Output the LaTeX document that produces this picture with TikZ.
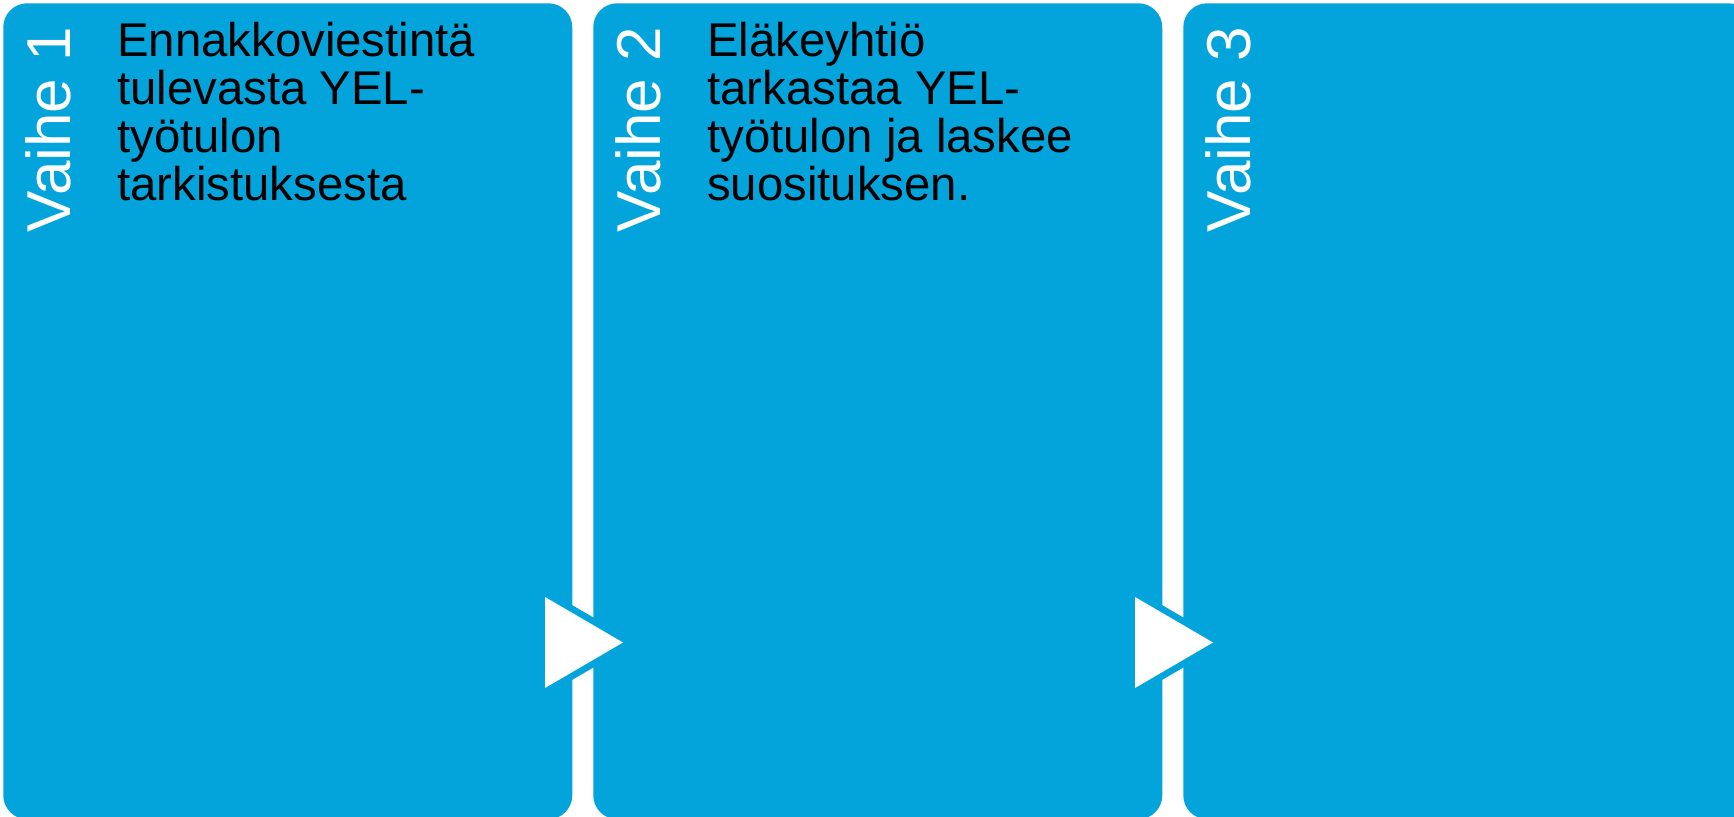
\documentclass[tikz,border=0pt]{standalone}
\usepackage{fontspec}
\setmainfont{Liberation Sans}
\usetikzlibrary{positioning}
\definecolor{vaiheblue}{HTML}{03A4DB}
\newcommand{\panelpitch}{590}
\newcommand{\labelfont}{\fontsize{46.5}{47}\selectfont}
\newcommand{\bodyfont}{\fontsize{35.5}{35.9}\selectfont}

\begin{document}
\begin{tikzpicture}[x=0.75pt,y=-0.75pt]
      \useasboundingbox (0,0) rectangle (1734,817);
      \clip (0,0) rectangle (1734,817);

          %%  three step panels  %%
      \foreach \i in {1,2,3}
      { \node (p\i) at ({3+(\i-1)*\panelpitch},3) [anchor=north west, fill=vaiheblue,
          rounded corners=18pt, inner sep=0pt, minimum width=426.75pt, minimum height=612pt] {};
        \node (v\i) at ({70+(\i-1)*\panelpitch},233) [rotate=90, anchor=base west,
          inner sep=0pt, text=white, font=\labelfont] {Vaihe \i};}

      \node (t1) at (117,22) [anchor=north west, inner sep=0pt, align=left, font=\bodyfont]
          {Ennakkoviestintä\\tulevasta YEL-\\työtulon\\tarkistuksesta};
      \node (t2) at (707,22) [anchor=north west, inner sep=0pt, align=left, font=\bodyfont]
          {Eläkeyhtiö\\tarkastaa YEL-\\työtulon ja laskee\\suosituksen.};

          %%  arrow heads between the panels  %%
      \foreach \i in {0,1}
      { \coordinate (a\i) at ({545+\i*\panelpitch},597);
        \coordinate (b\i) at ({623+\i*\panelpitch},642.5);
        \coordinate (c\i) at ({545+\i*\panelpitch},688);
        \draw[vaiheblue, line width=10pt] (a\i) -- (b\i) -- (c\i) -- cycle;
        \fill[white] (a\i) -- (b\i) -- (c\i) -- cycle;}

\end{tikzpicture}
\end{document}
